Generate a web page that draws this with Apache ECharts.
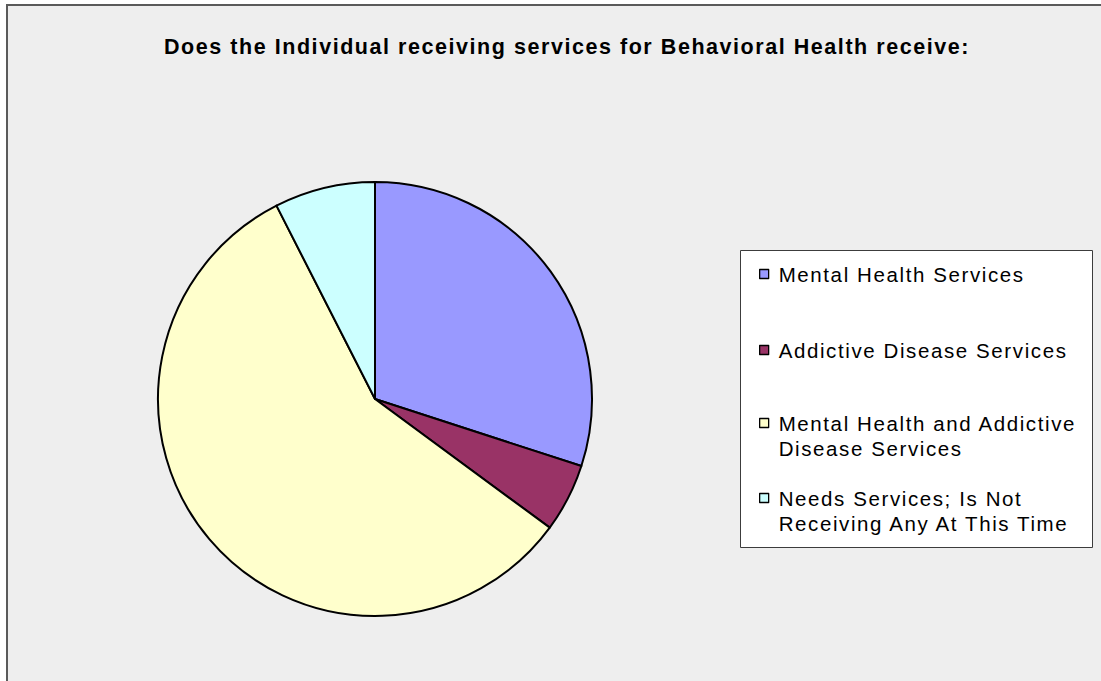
<!DOCTYPE html>
<html>
<head>
<meta charset="utf-8">
<script src="https://cdn.jsdelivr.net/npm/echarts@6/dist/echarts.min.js"></script>
<style>
  html, body { margin: 0; padding: 0; background: #ffffff; }
  #chart { width: 1101px; height: 681px; }
</style>
</head>
<body>
<div id="chart"></div>
<script>
// Share of individuals by kind of behavioral health service received (%)
const titleText = 'Does the Individual receiving services for Behavioral Health receive:';
const categories = [
  'Mental Health Services',
  'Addictive Disease Services',
  'Mental Health and Addictive\nDisease Services',
  'Needs Services; Is Not\nReceiving Any At This Time'
];
const shares = [30.0, 5.1, 57.4, 7.5];
const sliceColors = ['#9999ff', '#993366', '#ffffcc', '#ccffff'];

const FONT = "'Liberation Sans', Arial, sans-serif";
const LINE_H = 25;

// square swatch; for two-line entries a zero-length tail stretches the
// symbol box so the swatch lines up with the first text line
const SWATCH = 'path://M0,0h9v9h-9z';
const SWATCH_TALL = 'path://M0,0h9v9h-9z M0,34L0.001,34';

// one legend block per entry so each sits at its own height
const legendTops = [261.5, 337.5, 410.5, 485.5];
const legends = categories.map(function (name, i) {
  const twoLines = name.indexOf('\n') >= 0;
  return {
    data: [name],
    orient: 'vertical',
    left: 759,
    top: legendTops[i],
    padding: 0,
    icon: twoLines ? SWATCH_TALL : SWATCH,
    itemWidth: 9,
    itemHeight: twoLines ? 34 : 9,
    itemStyle: { borderColor: '#000000', borderWidth: 1.3 },
    selectedMode: false,
    textStyle: {
      fontFamily: FONT,
      fontSize: 20.5,
      color: '#000000',
      lineHeight: LINE_H,
      padding: [0, 0, 0, 5]
    }
  };
});

const chart = echarts.init(document.getElementById('chart'), null, { renderer: 'svg' });
chart.setOption({
  animation: false,
  backgroundColor: '#ffffff',
  graphic: [
    {
      type: 'rect', z: -10,
      shape: { x: 7, y: 5, width: 1200, height: 800 },
      style: { fill: '#eeeeee', stroke: '#5a5a5a', lineWidth: 2 }
    },
    {
      type: 'rect', z: -5,
      shape: { x: 740.5, y: 250.5, width: 352, height: 297 },
      style: { fill: '#ffffff', stroke: '#3c3c3c', lineWidth: 1 }
    }
  ],
  title: {
    text: titleText,
    left: 164,
    top: 36,
    padding: 0,
    textStyle: { fontFamily: FONT, fontSize: 21.5, fontWeight: 'bold', color: '#000000' }
  },
  legend: legends,
  series: [{
    type: 'pie',
    center: [375, 399],
    radius: 217,
    startAngle: 90,
    clockwise: true,
    label: { show: false },
    labelLine: { show: false },
    emphasis: { disabled: true },
    itemStyle: { borderColor: '#000000', borderWidth: 2 },
    data: categories.map(function (name, i) {
      return { name: name, value: shares[i], itemStyle: { color: sliceColors[i] } };
    })
  }]
});

// loose, GDI-like spacing between glyphs
function spreadGlyphs() {
  const texts = document.querySelectorAll('#chart svg text');
  texts.forEach(function (t) {
    const isTitle = t.textContent === titleText;
    t.style.letterSpacing = isTitle ? '1.55px' : '1.6px';
  });
}
spreadGlyphs();
chart.on('finished', spreadGlyphs);
</script>
</body>
</html>
